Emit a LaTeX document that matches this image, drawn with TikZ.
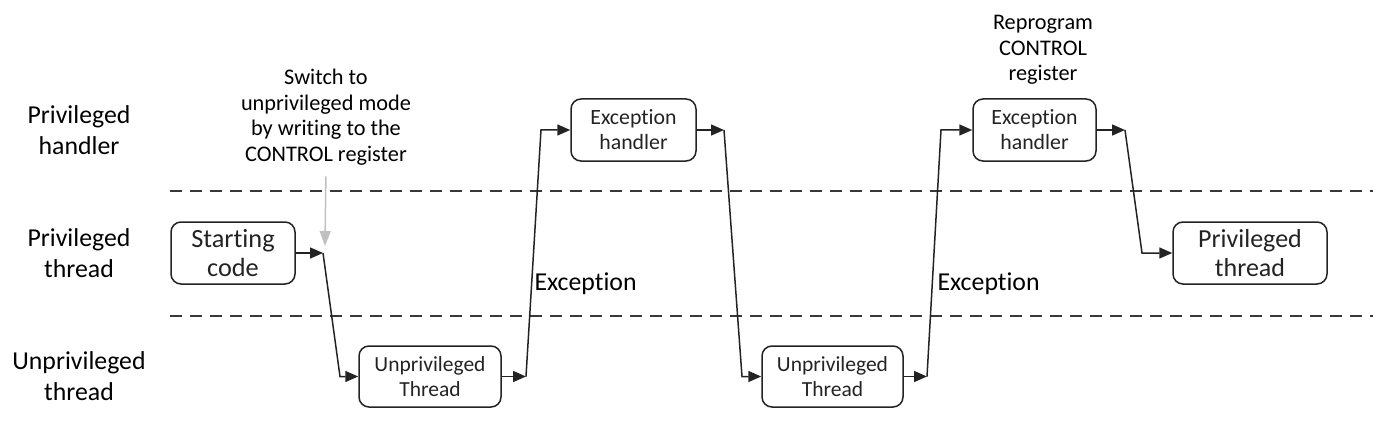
\documentclass[tikz,border=0pt]{standalone}
\usepackage{fontspec}
\setmainfont{Carlito}[Ligatures=NoCommon]
\usetikzlibrary{arrows.meta}
\tikzset{>={Triangle[length=13pt, width=11pt]}}
\definecolor{mygray1}{RGB}{192, 192, 192}
\definecolor{mygray2}{RGB}{55, 55, 55}
\definecolor{mygray3}{RGB}{35, 35, 35}

\begin{document}
\begin{tikzpicture}[
    x = 1pt, y = -1pt,
    d0/.style = {line width = 1.5, mygray3},
    box/.style = {d0, draw, rounded corners = 10, align = center, inner sep = 0},
    lane/.style = {align = center, font = \fontsize{25.8}{31}\selectfont},
    note/.style = {align = center, font = \fontsize{22.3}{25.5}\selectfont},
    sep/.style = {line width = 1.5, mygray2, dash pattern = on 12 off 8}
]
\useasboundingbox (0,0) rectangle (1373,441);

% lanes
\node[lane] (lh) at (79,130) {Privileged\\handler};
\node[lane] (lt) at (79,253) {Privileged\\thread};
\node[lane] (lu) at (79,376) {Unprivileged\\thread};
\draw[sep] (170,191) -- (1373,191);
\draw[sep] (170,316) -- (1373,316);

% boxes
\node[box, minimum width = 124, minimum height = 62, font = \fontsize{26.3}{29}\selectfont] (start) at (233,253) {Starting\\code};
\node[box, minimum width = 142, minimum height = 61, font = \fontsize{21.5}{25}\selectfont] (unpriv1) at (430,376.5) {Unprivileged\\Thread};
\node[box, minimum width = 125, minimum height = 62, font = \fontsize{21.8}{25}\selectfont] (exc1) at (633.5,130) {Exception\\handler};
\node[box, minimum width = 141, minimum height = 61, font = \fontsize{21.5}{25}\selectfont] (unpriv2) at (832.5,376.5) {Unprivileged\\Thread};
\node[box, minimum width = 123, minimum height = 62, font = \fontsize{21.8}{25}\selectfont] (exc2) at (1034.5,130) {Exception\\handler};
\node[box, minimum width = 154, minimum height = 62, font = \fontsize{26}{29}\selectfont] (priv) at (1250,253) {Privileged\\thread};

% notes
\node[note] (switch) at (326,117) {Switch to\\unprivileged mode\\by writing to the\\CONTROL register};
\node[note] (reprog) at (1043,50) {Reprogram\\CONTROL\\register};
\node[lane, anchor = west] (ex1) at (531,284) {Exception};
\node[lane, anchor = west] (ex2) at (934,284) {Exception};

% bends
\coordinate (a1) at (323,253);
\coordinate (a2) at (340,376.5);
\coordinate (b1) at (526,376.5);
\coordinate (b2) at (541,130);
\coordinate (c1) at (724,130);
\coordinate (c2) at (742,376.5);
\coordinate (d1) at (927,376.5);
\coordinate (d2) at (941,130);
\coordinate (e1) at (1125,130);
\coordinate (e2) at (1142,253);
\coordinate (g) at (325,246);

\draw[d0, ->] (start) -- (a1);
\draw[d0, ->] (a1) -- (a2) -- (unpriv1);
\draw[d0, ->] (unpriv1) -- (b1);
\draw[d0, ->] (b1) -- (b2) -- (exc1);
\draw[d0, ->] (exc1) -- (c1);
\draw[d0, ->] (c1) -- (c2) -- (unpriv2);
\draw[d0, ->] (unpriv2) -- (d1);
\draw[d0, ->] (d1) -- (d2) -- (exc2);
\draw[d0, ->] (exc2) -- (e1);
\draw[d0, ->] (e1) -- (e2) -- (priv);

\draw[line width = 1.5, mygray1, -{Triangle[length=15pt, width=11pt]}, shorten <= 8] (switch.south) -- (g);

\end{tikzpicture}
\end{document}
